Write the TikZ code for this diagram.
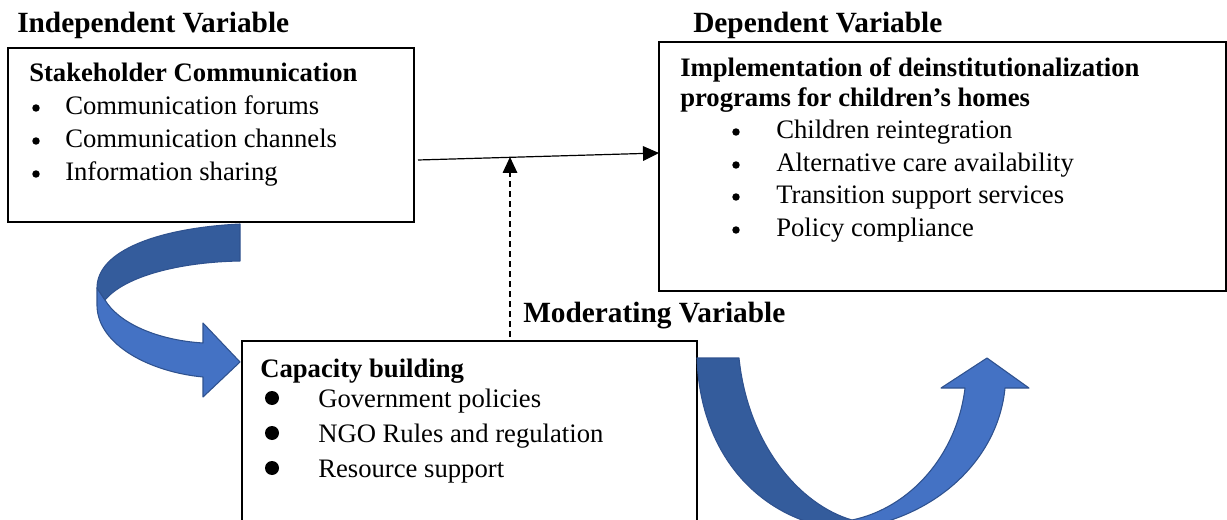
\documentclass[tikz,border=0pt]{standalone}
\usepackage{fontspec}
\setmainfont{Liberation Serif}
\usetikzlibrary{arrows.meta,fit}
\definecolor{ribbondark}{RGB}{52,92,156}
\definecolor{ribbonlight}{RGB}{68,114,196}
\definecolor{ribbonedge}{RGB}{47,82,143}
\tikzset{
  box/.style={draw=black,line width=1pt,inner sep=0pt,rectangle},
  ttl/.style={anchor=base west,inner sep=0pt,font=\fontsize{22}{26}\selectfont\bfseries},
  hd/.style={anchor=base west,inner sep=0pt,font=\fontsize{20}{24}\selectfont\bfseries},
  txt/.style={anchor=base west,inner sep=0pt,font=\fontsize{20}{24}\selectfont},
  smalldot/.style={circle,fill=black,inner sep=0pt,minimum size=5.6pt},
  bigdot/.style={circle,fill=black,inner sep=0pt,minimum size=10.5pt},
  conn/.style={line width=0.9pt,-{Triangle[length=12pt,width=11pt]}},
  ribbon/.style={draw=ribbonedge,line width=0.8pt,line join=round}
}
\begin{document}
\begin{tikzpicture}[x=0.75pt,y=-0.75pt]
\useasboundingbox (0,0) rectangle (1227,520);
\clip (0,0) rectangle (1227,520);

% titles
\node[ttl] (tind) at (17,33) {Independent Variable};
\node[ttl] (tdep) at (693,33) {Dependent Variable};
\node[ttl] (tmod) at (523,322) {Moderating Variable};

% boxes
\node[box,fit={(8,48) (414,222)}] (b1) {};
\node[box,fit={(659,42) (1226,291)}] (b2) {};
\node[box,fit={(242,341) (697,540)}] (b3) {};

% box 1 text
\node[hd] (h1) at (29,82) {Stakeholder Communication};
\node[smalldot] (b1d1) at (36,108) {};
\node[smalldot] (b1d2) at (36,141) {};
\node[smalldot] (b1d3) at (36,174) {};
\node[txt] (b1t1) at (65,115) {Communication forums};
\node[txt] (b1t2) at (65,148) {Communication channels};
\node[txt] (b1t3) at (65,181) {Information sharing};

% box 2 text
\node[hd] (h2a) at (680,77) {Implementation of deinstitutionalization};
\node[hd] (h2b) at (680,107) {programs for children’s homes};
\node[smalldot] (b2d1) at (736,132) {};
\node[smalldot] (b2d2) at (736,165) {};
\node[smalldot] (b2d3) at (736,197) {};
\node[smalldot] (b2d4) at (736,230) {};
\node[txt] (b2t1) at (776,139) {Children reintegration};
\node[txt] (b2t2) at (776,172) {Alternative care availability};
\node[txt] (b2t3) at (776,204) {Transition support services};
\node[txt] (b2t4) at (776,237) {Policy compliance};

% box 3 text
\node[hd] (h3) at (260,377) {Capacity building};
\node[bigdot] (b3d1) at (272,398) {};
\node[bigdot] (b3d2) at (272,433) {};
\node[bigdot] (b3d3) at (272,468) {};
\node[txt] (b3t1) at (318,407) {Government policies};
\node[txt] (b3t2) at (318,442) {NGO Rules and regulation};
\node[txt] (b3t3) at (318,477) {Resource support};

% connectors
\coordinate (p1) at (418,160);
\coordinate (p2) at (659,153);
\draw[conn] (p1) -- (p2);
\coordinate (d1) at (510,337);
\coordinate (d2) at (510,157);
\draw[conn,dash pattern=on 4.5pt off 3pt] (d1) -- (d2);

% left curved arrow (ribbon)
\filldraw[ribbon,fill=ribbonlight]
  (97,288) -- (97,306) .. controls (98,345) and (150,372) .. (203,377)
  -- (203,397) -- (240,362) -- (203,323) -- (203,343)
  .. controls (155,340) and (118,322) .. (105,300) -- cycle;
\filldraw[ribbon,fill=ribbondark]
  (240,224) .. controls (160,228) and (97,250) .. (97,288)
  -- (105,300) .. controls (125,276) and (180,262) .. (240,261) -- cycle;

% right curved arrow (ribbon)
\filldraw[ribbon,fill=ribbonlight]
  (846,530) .. controls (935,520) and (998,460) .. (1005,388)
  -- (1029,388) -- (987,358) -- (941,388) -- (965,388)
  .. controls (957,455) and (910,508) .. (852,520) -- cycle;
\filldraw[ribbon,fill=ribbondark]
  (697,358) -- (739,358) .. controls (748,445) and (800,505) .. (852,520)
  -- (846,530) .. controls (760,522) and (700,455) .. (697,358) -- cycle;
\end{tikzpicture}
\end{document}
